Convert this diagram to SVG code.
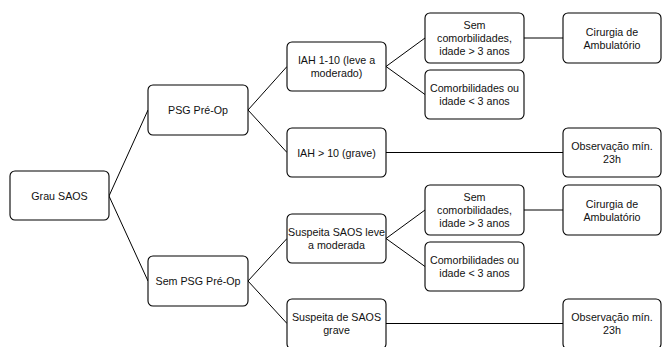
<svg xmlns="http://www.w3.org/2000/svg" width="662" height="347" viewBox="0 0 662 347">
<style>
.box{fill:#fff;stroke:#000;stroke-width:1.1}
.lbl{font-family:"Liberation Sans",Arial,sans-serif;font-size:10.7px;fill:#111;text-anchor:middle}
.conn line{stroke:#000;stroke-width:1}
</style>
<rect width="662" height="347" fill="#fff"/>
<g class="conn">
<line x1="109" y1="196" x2="148" y2="110"/>
<line x1="109" y1="196" x2="148" y2="281"/>
<line x1="248" y1="110" x2="287" y2="66.5"/>
<line x1="248" y1="110" x2="287" y2="152.5"/>
<line x1="386" y1="66.5" x2="425" y2="38"/>
<line x1="386" y1="66.5" x2="425" y2="94.5"/>
<line x1="524" y1="38" x2="563" y2="38"/>
<line x1="386" y1="152.5" x2="563" y2="152.5"/>
<line x1="248" y1="281" x2="287" y2="238.5"/>
<line x1="248" y1="281" x2="287" y2="323.5"/>
<line x1="386" y1="238.5" x2="425" y2="210"/>
<line x1="386" y1="238.5" x2="425" y2="266.5"/>
<line x1="524" y1="210" x2="563" y2="210"/>
<line x1="386" y1="323.5" x2="563" y2="323.5"/>
</g>
<g id="grau"><rect class="box" x="10" y="171" width="99" height="49" rx="5"/><text class="lbl" x="59.5" y="199.5">Grau SAOS</text></g>
<g id="psg"><rect class="box" x="148" y="85" width="100" height="50" rx="5"/><text class="lbl" x="198" y="114">PSG Pré-Op</text></g>
<g id="iah110"><rect class="box" x="287" y="42" width="99" height="49" rx="5"/><text class="lbl" x="336.5" y="64">IAH 1-10 (leve a</text><text class="lbl" x="336.5" y="77">moderado)</text></g>
<g id="iah10"><rect class="box" x="287" y="128" width="99" height="49" rx="5"/><text class="lbl" x="336.5" y="156.5">IAH &gt; 10 (grave)</text></g>
<g id="semcomorb1"><rect class="box" x="425" y="13" width="99" height="50" rx="5"/><text class="lbl" x="474.5" y="29">Sem</text><text class="lbl" x="474.5" y="42">comorbilidades,</text><text class="lbl" x="474.5" y="55">idade &gt; 3 anos</text></g>
<g id="comorb1"><rect class="box" x="425" y="70" width="99" height="49" rx="5"/><text class="lbl" x="474.5" y="92">Comorbilidades ou</text><text class="lbl" x="474.5" y="105">idade &lt; 3 anos</text></g>
<g id="cirurgia1"><rect class="box" x="563" y="13" width="98" height="50" rx="5"/><text class="lbl" x="612" y="35.5">Cirurgia de</text><text class="lbl" x="612" y="48.5">Ambulatório</text></g>
<g id="obs1"><rect class="box" x="563" y="128" width="98" height="49" rx="5"/><text class="lbl" x="612" y="150">Observação mín.</text><text class="lbl" x="612" y="163">23h</text></g>
<g id="sempsg"><rect class="box" x="148" y="256" width="100" height="50" rx="5"/><text class="lbl" x="198" y="285">Sem PSG Pré-Op</text></g>
<g id="susleve"><rect class="box" x="287" y="214" width="99" height="49" rx="5"/><text class="lbl" x="336.5" y="236">Suspeita SAOS leve</text><text class="lbl" x="336.5" y="249">a moderada</text></g>
<g id="susgrave"><rect class="box" x="287" y="299" width="99" height="50" rx="5"/><text class="lbl" x="336.5" y="321">Suspeita de SAOS</text><text class="lbl" x="336.5" y="334">grave</text></g>
<g id="semcomorb2"><rect class="box" x="425" y="185" width="99" height="50" rx="5"/><text class="lbl" x="474.5" y="201">Sem</text><text class="lbl" x="474.5" y="214">comorbilidades,</text><text class="lbl" x="474.5" y="227">idade &gt; 3 anos</text></g>
<g id="comorb2"><rect class="box" x="425" y="242" width="99" height="49" rx="5"/><text class="lbl" x="474.5" y="264">Comorbilidades ou</text><text class="lbl" x="474.5" y="277">idade &lt; 3 anos</text></g>
<g id="cirurgia2"><rect class="box" x="563" y="185" width="98" height="50" rx="5"/><text class="lbl" x="612" y="207.5">Cirurgia de</text><text class="lbl" x="612" y="220.5">Ambulatório</text></g>
<g id="obs2"><rect class="box" x="563" y="299" width="98" height="50" rx="5"/><text class="lbl" x="612" y="321">Observação mín.</text><text class="lbl" x="612" y="334">23h</text></g>
</svg>
